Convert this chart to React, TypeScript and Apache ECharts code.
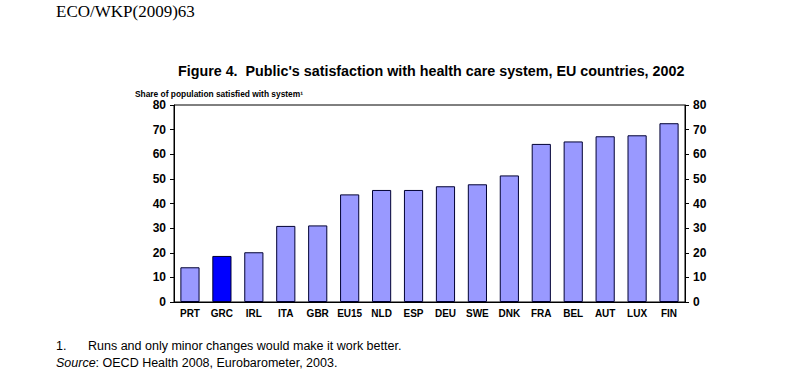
import React, { useEffect, useRef } from "react";
import * as echarts from "echarts";

const categories = ["PRT", "GRC", "IRL", "ITA", "GBR", "EU15", "NLD", "ESP", "DEU", "SWE", "DNK", "FRA", "BEL", "AUT", "LUX", "FIN"];
const values = [14.1, 18.7, 20.2, 30.9, 31.1, 43.7, 45.5, 45.5, 47.0, 47.8, 51.4, 64.2, 65.2, 67.3, 67.7, 72.6];
const highlighted = ["GRC"];

const titleText = "Figure 4.  Public's satisfaction with health care system, EU countries, 2002";
const axisTitle = "Share of population satisfied with system¹";

export default function App() {
  const ref = useRef<HTMLDivElement>(null);
  useEffect(() => {
    if (!ref.current) return;
    const chart = echarts.init(ref.current, undefined, { renderer: "svg" });
    const font = "'Liberation Sans', Arial, sans-serif";
    const yAxisCommon = {
      type: "value" as const,
      min: 0,
      max: 80,
      interval: 10,
      splitLine: { show: false },
      axisLine: { show: true, lineStyle: { color: "#000", width: 1 } },
      axisTick: { show: true, length: 4, lineStyle: { color: "#000" } },
      axisLabel: { color: "#000", fontFamily: font, fontWeight: "bold" as const, fontSize: 12 },
    };
    chart.setOption({
      animation: false,
      backgroundColor: "#fff",
      grid: { left: 174, right: 107, top: 105, bottom: 73, show: true, borderColor: "#000", borderWidth: 1 },
      xAxis: {
        type: "category",
        data: categories,
        axisLine: { show: true, lineStyle: { color: "#000" } },
        axisTick: { show: false },
        axisLabel: { color: "#000", fontFamily: font, fontWeight: "bold", fontSize: 10, margin: 6, interval: 0 },
      },
      yAxis: [
        { ...yAxisCommon, position: "left", axisLabel: { ...yAxisCommon.axisLabel, margin: 8 } },
        { ...yAxisCommon, position: "right", axisLabel: { ...yAxisCommon.axisLabel, margin: 8 } },
      ],
      series: [
        {
          type: "bar",
          yAxisIndex: 0,
          barWidth: "60%",
          data: categories.map((c, i) => ({
            value: values[i],
            itemStyle: {
              color: highlighted.includes(c) ? "#0000FF" : "#9999FF",
              borderColor: "#000033",
              borderWidth: 1,
            },
          })),
        },
      ],
      graphic: [
        { type: "text", left: 56, top: 3, style: { text: "ECO/WKP(2009)63", font: "17px 'Liberation Serif', 'Times New Roman', serif", fill: "#000" } },
        { type: "text", left: 178, top: 64, style: { text: titleText, font: `bold 14.3px ${font}`, fill: "#000" } },
        { type: "text", left: 135, top: 90, style: { text: axisTitle, font: `bold 8.4px ${font}`, fill: "#000" } },
        { type: "text", left: 56, top: 339, style: { text: "1.", font: `12.5px ${font}`, fill: "#000" } },
        { type: "text", left: 88, top: 339, style: { text: "Runs and only minor changes would make it work better.", font: `12.5px ${font}`, fill: "#000" } },
        {
          type: "text",
          left: 56,
          top: 356,
          style: {
            text: "{i|Source}: OECD Health 2008, Eurobarometer, 2003.",
            font: `12.5px ${font}`,
            fill: "#000",
            rich: { i: { fontStyle: "italic", fontSize: 12.5, fontFamily: font, fill: "#000" } },
          },
        },
      ],
    });
    return () => chart.dispose();
  }, []);
  return <div ref={ref} style={{ width: 792, height: 375, position: "absolute", left: 0, top: 0 }} />;
}
